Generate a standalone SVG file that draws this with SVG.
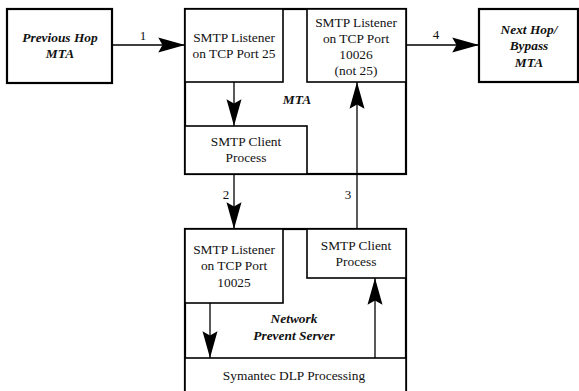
<svg xmlns="http://www.w3.org/2000/svg" width="579" height="391" viewBox="0 0 579 391" font-family="'Liberation Serif', serif">
<style>
.box{fill:#fff;stroke:#000;stroke-width:1.6}
.tbox{fill:#fff;stroke:#000;stroke-width:2.2}
.t{font-size:13.4px;text-anchor:middle;fill:#111}
.b{font-weight:bold;font-style:italic}
.n{font-size:13px;text-anchor:middle;fill:#111}
.c{stroke:#000;stroke-width:1.3;fill:none;marker-end:url(#ah)}
</style>
<defs>
<marker id="ah" markerUnits="userSpaceOnUse" markerWidth="30" markerHeight="20" viewBox="-26 -8 28 16" refX="0" refY="0" orient="auto">
<path d="M0,0 L-25,-7 L-21,0 L-25,7 Z" fill="#000"/>
</marker>
</defs>
<rect width="579" height="391" fill="#fff"/>
<g id="prev-hop">
<rect class="tbox" x="7" y="9" width="105" height="74"/>
<text class="t b" x="60" y="42">Previous Hop</text>
<text class="t b" x="60" y="58">MTA</text>
</g>
<g id="mta">
<rect class="tbox" x="185" y="9" width="221" height="165"/>
<text class="t b" x="297" y="104">MTA</text>
</g>
<g id="mta-listener25">
<rect class="box" x="185" y="9" width="98" height="73"/>
<text class="t" x="234" y="42">SMTP Listener</text>
<text class="t" x="234" y="58">on TCP Port 25</text>
</g>
<g id="mta-listener10026">
<rect class="box" x="307" y="9" width="99" height="73"/>
<text class="t" x="356" y="27">SMTP Listener</text>
<text class="t" x="356" y="43">on TCP Port</text>
<text class="t" x="356" y="59">10026</text>
<text class="t" x="356" y="75">(not 25)</text>
</g>
<g id="mta-client">
<rect class="box" x="185" y="126" width="122" height="48"/>
<text class="t" x="246" y="146">SMTP Client</text>
<text class="t" x="246" y="162">Process</text>
</g>
<g id="next-hop">
<rect class="tbox" x="479" y="9" width="99" height="73"/>
<text class="t b" x="529" y="34">Next Hop/</text>
<text class="t b" x="529" y="50">Bypass</text>
<text class="t b" x="529" y="67">MTA</text>
</g>
<g id="nps">
<rect class="tbox" x="185" y="229" width="221" height="170"/>
<text class="t b" x="294" y="323">Network</text>
<text class="t b" x="294" y="340">Prevent Server</text>
</g>
<g id="nps-listener10025">
<rect class="box" x="185" y="229" width="98" height="74"/>
<text class="t" x="234" y="254">SMTP Listener</text>
<text class="t" x="234" y="270">on TCP Port</text>
<text class="t" x="234" y="287">10025</text>
</g>
<g id="nps-client">
<rect class="box" x="307" y="229" width="99" height="49"/>
<text class="t" x="356" y="250">SMTP Client</text>
<text class="t" x="356" y="266">Process</text>
</g>
<g id="dlp">
<rect class="box" x="185" y="358" width="221" height="41"/>
<text class="t" x="294" y="380">Symantec DLP Processing</text>
</g>
<g id="connectors">
<line class="c" x1="112" y1="45" x2="185" y2="45"/>
<text class="n" x="143" y="40">1</text>
<line class="c" x1="234" y1="82" x2="234" y2="126"/>
<line class="c" x1="234" y1="174" x2="234" y2="229"/>
<text class="n" x="226" y="199">2</text>
<line class="c" x1="357" y1="229" x2="357" y2="82"/>
<text class="n" x="348" y="199">3</text>
<line class="c" x1="406" y1="45" x2="479" y2="45"/>
<text class="n" x="436" y="39">4</text>
<line class="c" x1="210" y1="303" x2="210" y2="358"/>
<line class="c" x1="375" y1="358" x2="375" y2="278"/>
</g>
</svg>
